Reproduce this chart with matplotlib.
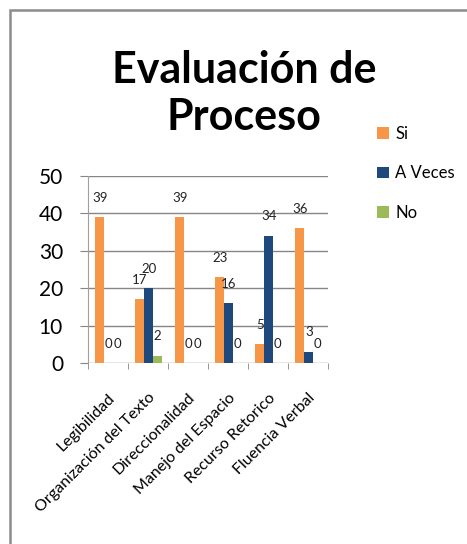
import matplotlib.pyplot as plt
import numpy as np
from matplotlib.patches import Rectangle

categories = ["Legibilidad", "Organización del Texto", "Direccionalidad",
              "Manejo del Espacio", "Recurso Retorico", "Fluencia Verbal"]
series_names = ["Si", "A Veces", "No"]
si = [39, 17, 39, 23, 5, 36]
a_veces = [0, 20, 0, 16, 34, 3]
no = [0, 2, 0, 0, 0, 0]
yticks = [0, 10, 20, 30, 40, 50]

colors = ["#F79646", "#1F497D", "#9BBB59"]
plt.rcParams["font.family"] = ["Lato", "DejaVu Sans"]

W, H = 467, 544
fig = plt.figure(figsize=(W / 100, H / 100), dpi=100)
ax = fig.add_axes([88 / W, 1 - 363 / H, 240 / W, (363 - 176) / H])

x = np.arange(len(categories))
bw = 0.222
for i, (vals, c, name) in enumerate(zip([si, a_veces, no], colors, series_names)):
    pos = x + (i - 1) * bw + 0.02
    ax.bar(pos, vals, width=bw, color=c, label=name, zorder=3)
    for p, v in zip(pos, vals):
        ax.annotate(str(v), (p, v), xytext=(0, 14), textcoords="offset points",
                    ha="center", va="center", fontsize=9.5, color="#222222")

ax.set_xlim(-0.5, len(categories) - 0.5)
ax.set_ylim(0, 50)
ax.set_yticks(yticks)
ax.set_yticklabels([str(t) for t in yticks], fontsize=15)
ax.yaxis.grid(True, color="#868686", linewidth=1, zorder=0)
ax.set_xticks(np.arange(len(categories) + 1) - 0.5, minor=True)
ax.set_xticks(x)
ax.set_xticklabels(categories, rotation=45, ha="right", rotation_mode="anchor",
                   fontsize=11.5)
ax.tick_params(axis="x", which="major", length=0, pad=20)
ax.tick_params(axis="x", which="minor", length=4, color="#868686", direction="out")
ax.tick_params(axis="y", length=6, color="#868686", pad=12)
for s in ["top", "right", "bottom"]:
    ax.spines[s].set_visible(False)
ax.spines["left"].set_color("#A0A0A0")

fig.legend(loc="upper left", bbox_to_anchor=(362 / W, 1 - 111 / H),
           frameon=False, fontsize=12, handlelength=0.7, handleheight=0.7,
           handletextpad=0.4, labelspacing=1.4)

fig.text(244 / W, 1 - 70 / H, "Evaluación de", ha="center", va="center",
         fontsize=31, fontweight="bold")
fig.text(244 / W, 1 - 117 / H, "Proceso", ha="center", va="center",
         fontsize=31, fontweight="bold")

fig.patches.append(Rectangle((10 / W, -0.1), 1.2, 1 - 10 / H + 0.1,
                             transform=fig.transFigure, fill=False,
                             edgecolor="#8C8C8C", linewidth=1.8))

fig.savefig("out.png", dpi=100)
